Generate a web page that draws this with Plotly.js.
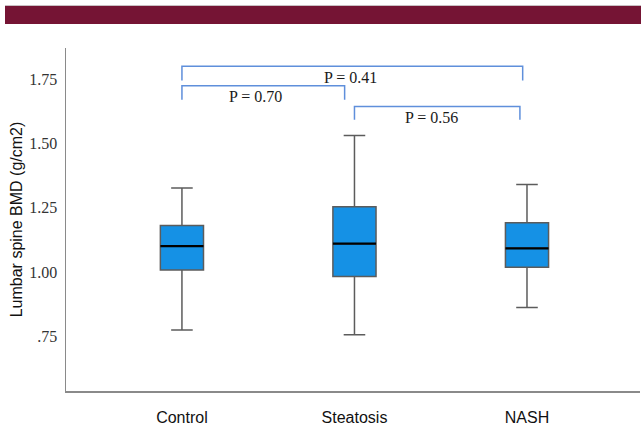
<!DOCTYPE html>
<html>
<head>
<meta charset="utf-8">
<script src="https://cdn.plot.ly/plotly-3.0.1.min.js"></script>
<style>
html,body{margin:0;padding:0;background:#fff;}
#band{position:absolute;left:5px;top:5px;width:636px;height:18px;background:#751434;border-top:1px solid #c9c0c3;}
#chart{position:absolute;left:0;top:0;width:641px;height:427px;}
</style>
</head>
<body>
<div id="chart"></div>
<div id="band"></div>
<script>
// Data
var categories = ["Control", "Steatosis", "NASH"];
var lowerWhisker = [0.774, 0.756, 0.862];
var q1Values = [1.008, 0.982, 1.018];
var medianValues = [1.101, 1.110, 1.092];
var q3Values = [1.181, 1.254, 1.192];
var upperWhisker = [1.327, 1.531, 1.341];

var yTickVals = [0.75, 1.00, 1.25, 1.50, 1.75];
var yTickText = [".75", "1.00", "1.25", "1.50", "1.75"];

// comparisons: bracket ends, p labels, bracket heights
var compFrom = [0, 0, 1];
var compTo = [1.975, 0.943, 1.959];
var compLabels = ["P = 0.41", "P = 0.70", "P = 0.56"];
var compTop = [1.801, 1.725, 1.644];
var compLegBottom = [1.745, 1.671, 1.593];
var compTextX = [0.978, 0.429, 1.449];
var compTextY = [1.759, 1.683, 1.601];

var boxWidth = 0.25;
var xs = categories.map(function(_, i){ return i; });

var boxTrace = {
  type: "box",
  x: xs,
  q1: q1Values,
  median: medianValues,
  q3: q3Values,
  lowerfence: lowerWhisker,
  upperfence: upperWhisker,
  width: boxWidth,
  whiskerwidth: 0.5,
  fillcolor: "#1591e5",
  line: {color: "#5c5c5c", width: 1.5},
  boxpoints: false,
  hoverinfo: "skip",
  showlegend: false
};

var mx = [], my = [];
medianValues.forEach(function(m, i){
  mx.push(i - boxWidth/2, i + boxWidth/2, null);
  my.push(m, m, null);
});
var medianTrace = {
  type: "scatter", mode: "lines", x: mx, y: my,
  line: {color: "#000", width: 2.2}, hoverinfo: "skip", showlegend: false
};

var shapes = [];
var annotations = [];
var bracketColor = "#5f8fdb";
for (var k = 0; k < compLabels.length; k++) {
  shapes.push({
    type: "path", xref: "x", yref: "y",
    path: "M " + compFrom[k] + "," + compLegBottom[k] + " L " + compFrom[k] + "," + compTop[k] +
          " L " + compTo[k] + "," + compTop[k] + " L " + compTo[k] + "," + compLegBottom[k],
    line: {color: bracketColor, width: 1.5}
  });
  annotations.push({
    x: compTextX[k], y: compTextY[k], xref: "x", yref: "y",
    text: compLabels[k], showarrow: false,
    font: {family: "Liberation Serif, Times New Roman, serif", size: 16, color: "#1a1a1a"}
  });
}

var layout = {
  width: 641, height: 427,
  margin: {l: 66, r: 1, t: 48, b: 36},
  paper_bgcolor: "#fff", plot_bgcolor: "#fff",
  showlegend: false,
  xaxis: {
    range: [-0.672, 2.655],
    tickvals: xs, ticktext: categories,
    showgrid: false, zeroline: false,
    showline: true, linecolor: "#8a8a8a", linewidth: 1.5,
    ticks: "", ticklen: 0,
    ticklabelstandoff: 11,
    tickfont: {family: "Liberation Sans, Arial, sans-serif", size: 16, color: "#111"}
  },
  yaxis: {
    range: [0.5366, 1.872],
    tickvals: yTickVals, ticktext: yTickText,
    showgrid: false, zeroline: false,
    showline: true, linecolor: "#8a8a8a", linewidth: 1.5,
    ticks: "", ticklen: 0,
    ticklabelstandoff: 4,
    tickfont: {family: "Liberation Serif, Times New Roman, serif", size: 16, color: "#333"},
    title: {text: "Lumbar spine BMD (g/cm2)", standoff: 2,
            font: {family: "Liberation Sans, Arial, sans-serif", size: 16, color: "#111"}}
  },
  shapes: shapes,
  annotations: annotations
};

Plotly.newPlot("chart", [boxTrace, medianTrace], layout, {displayModeBar: false, staticPlot: true});
</script>
</body>
</html>
